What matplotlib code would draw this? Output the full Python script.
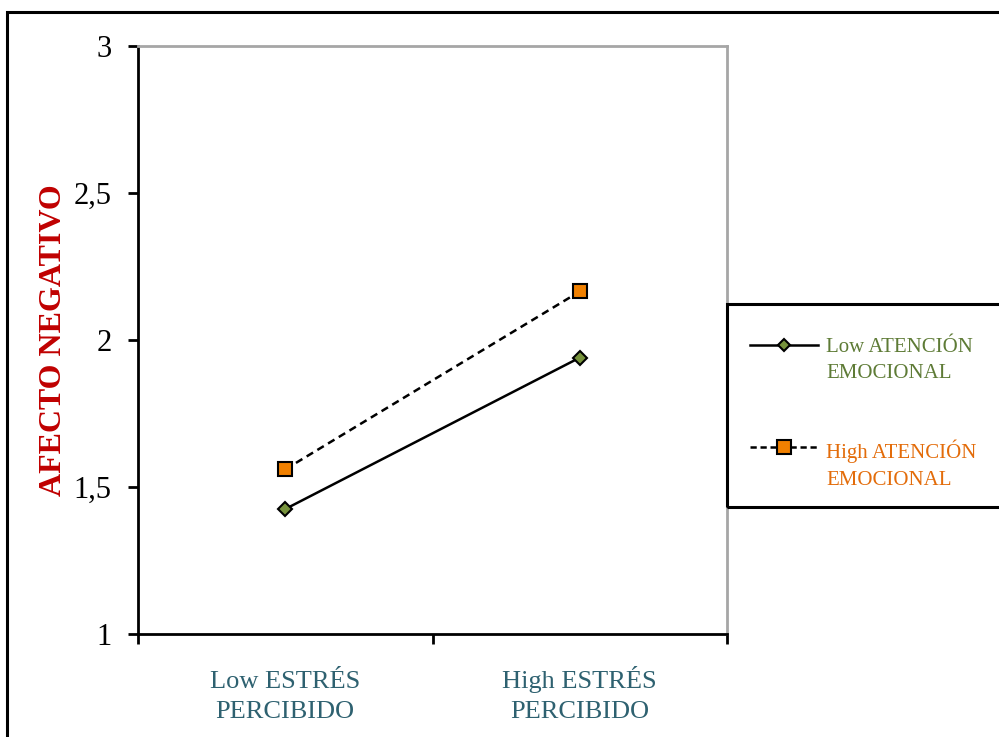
import matplotlib.pyplot as plt
from matplotlib.patches import Rectangle
from matplotlib.lines import Line2D

plt.rcParams['font.family'] = ['Liberation Serif', 'DejaVu Serif']

# Group means for negative affect by perceived stress level
categories = ['Low ESTRÉS\nPERCIBIDO', 'High ESTRÉS\nPERCIBIDO']
low_attention = [1.425, 1.94]
high_attention = [1.56, 2.165]
series_labels = ['Low ATENCIÓN\nEMOCIONAL', 'High ATENCIÓN\nEMOCIONAL']
series_colors = ['#5E7B36', '#E36C0A']
yticks = [1, 1.5, 2, 2.5, 3]
ytick_labels = ['1', '1,5', '2', '2,5', '3']

W, H = 999, 737
fig = plt.figure(figsize=(W / 100, H / 100), dpi=100)
ax = fig.add_axes([138 / W, 1 - 634 / H, 589 / W, 588 / H])

xpos = [0.5, 1.5]
low_style = dict(color='black', lw=1.8, ls='-', marker='D', ms=7.5,
                 mfc='#77933C', mec='black', mew=1.5)
high_style = dict(color='black', lw=1.8, ls=(0, (3, 2)), marker='s',
                  ms=10.5, mfc='#F08000', mec='black', mew=1.5)
ax.plot(xpos, low_attention, **low_style)
ax.plot(xpos, high_attention, **high_style)

ax.set_xlim(0, 2)
ax.set_ylim(1, 3)
ax.set_yticks(yticks)
ax.set_yticklabels(ytick_labels, fontsize=22)
ax.set_xticks([0, 1, 2])
ax.set_xticklabels([])
ax.tick_params(axis='both', which='major', direction='out', length=7,
               width=2, color='black')
ax.tick_params(axis='y', pad=12)

# Category names under the axis, aligned on the baseline of the last line
for x, cat in zip(xpos, categories):
    ax.text(x, -(718 - 634) / 588, cat, transform=ax.get_xaxis_transform(),
            ha='center', va='baseline', fontsize=19, color='#2E6170',
            linespacing=1.47)

for side in ['left', 'bottom']:
    ax.spines[side].set_linewidth(2)
for side in ['top', 'right']:
    ax.spines[side].set_color('#A6A6A6')
    ax.spines[side].set_linewidth(2)

ax.set_ylabel('AFECTO NEGATIVO', fontsize=23, fontweight='bold',
              color='#C00000', labelpad=4)

# Outer chart frame and legend frame
fig.patches.append(Rectangle((7 / W, -0.05), 1.0, 1 - 12 / H + 0.05,
                             transform=fig.transFigure, fill=False,
                             edgecolor='black', lw=2.2, clip_on=False))
fig.patches.append(Rectangle((727 / W, 1 - 507 / H), 0.5, 203 / H,
                             transform=fig.transFigure, fill=False,
                             edgecolor='black', lw=2.2, clip_on=False))

# Legend entries: handle line with centered marker, two-line label beside it
for style, label, color, y in zip([low_style, high_style], series_labels,
                                  series_colors, [345, 447]):
    ls = style['ls'] if style['ls'] == '-' else (0, (2.5, 1.5))
    fy = 1 - y / H
    fig.add_artist(Line2D([750 / W, 818 / W], [fy, fy],
                          transform=fig.transFigure, color='black',
                          lw=style['lw'], ls=ls))
    fig.add_artist(Line2D([784 / W], [fy], transform=fig.transFigure,
                          ls='None', marker=style['marker'],
                          ms=style['ms'] - 1, mfc=style['mfc'],
                          mec='black', mew=1.5))
    fig.text(826 / W, 1 - (y - 7) / H, label, fontsize=15, color=color,
             va='top', ha='left', linespacing=1.52)

fig.savefig('out.png', dpi=100)
